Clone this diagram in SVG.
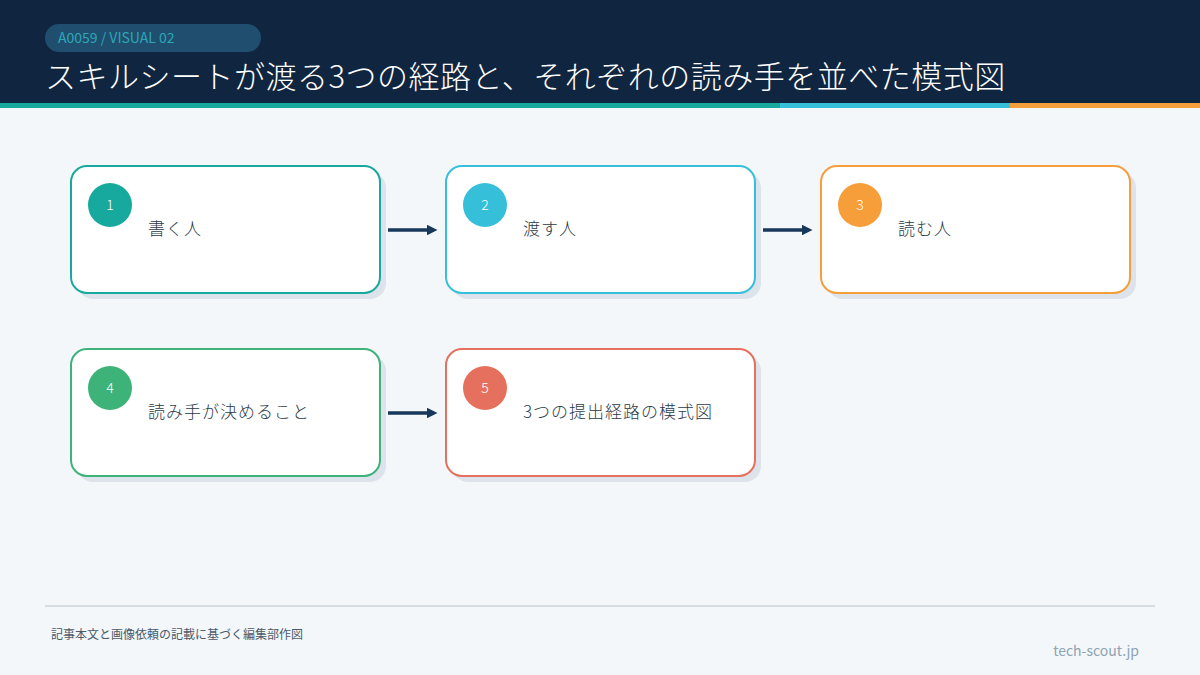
<svg xmlns="http://www.w3.org/2000/svg" width="1200" height="675" viewBox="0 0 1200 675">
<defs>
<style>
text{font-family:"Noto Sans CJK JP","Noto Sans",sans-serif;}
.card{fill:#fff;stroke-width:2;}
.sh{fill:#dde3ea;}
.num{fill:#fff;font-size:14px;text-anchor:middle;font-weight:300;}
.lbl{fill:#2b3a4a;font-size:17px;font-weight:300;letter-spacing:1px;}
.con{stroke:#17385a;stroke-width:3.5;fill:none;marker-end:url(#ah);}
</style>
<marker id="ah" markerWidth="3" markerHeight="3" refX="2" refY="1.5" orient="auto" markerUnits="strokeWidth"><path d="M0,0 L3,1.5 L0,3 Z" fill="#17385a"/></marker>
</defs>
<rect width="1200" height="675" fill="#f3f7fa"/>
<rect width="1200" height="104" fill="#10253f"/>
<rect y="103" width="780" height="5" fill="#17a99e"/>
<rect x="780" y="103" width="230" height="5" fill="#35bfd9"/>
<rect x="1010" y="103" width="190" height="5" fill="#f59e3a"/>
<rect x="45" y="24" width="216" height="28" rx="14" fill="#1f4e6e"/>
<text x="58" y="43" font-size="14" fill="#2ea7b8" font-family="Lato,sans-serif">A0059 / VISUAL 02</text>
<text x="45" y="88" font-size="31" fill="#ffffff" font-weight="200" letter-spacing="0.5">スキルシートが渡る3つの経路と、それぞれの読み手を並べた模式図</text>
<g id="connectors">
<line class="con" x1="388" y1="230" x2="434" y2="230"/>
<line class="con" x1="763" y1="230" x2="809" y2="230"/>
<line class="con" x1="388" y1="413" x2="434" y2="413"/>
</g>
<g id="n1"><rect class="sh" x="77" y="172" width="309" height="127" rx="16"/><rect class="card" x="71" y="166" width="309" height="127" rx="16" stroke="#17a99e"/><circle cx="110" cy="205" r="22" fill="#17a99e"/><text class="num" x="110" y="210">1</text><text class="lbl" x="148" y="235">書く人</text></g>
<g id="n2"><rect class="sh" x="452" y="172" width="309" height="127" rx="16"/><rect class="card" x="446" y="166" width="309" height="127" rx="16" stroke="#35bfd9"/><circle cx="485" cy="205" r="22" fill="#35bfd9"/><text class="num" x="485" y="210">2</text><text class="lbl" x="523" y="235">渡す人</text></g>
<g id="n3"><rect class="sh" x="827" y="172" width="309" height="127" rx="16"/><rect class="card" x="821" y="166" width="309" height="127" rx="16" stroke="#f59e3a"/><circle cx="860" cy="205" r="22" fill="#f59e3a"/><text class="num" x="860" y="210">3</text><text class="lbl" x="898" y="235">読む人</text></g>
<g id="n4"><rect class="sh" x="77" y="355" width="309" height="127" rx="16"/><rect class="card" x="71" y="349" width="309" height="127" rx="16" stroke="#3db37a"/><circle cx="110" cy="388" r="22" fill="#3db37a"/><text class="num" x="110" y="393">4</text><text class="lbl" x="148" y="418">読み手が決めること</text></g>
<g id="n5"><rect class="sh" x="452" y="355" width="309" height="127" rx="16"/><rect class="card" x="446" y="349" width="309" height="127" rx="16" stroke="#e5705e"/><circle cx="485" cy="388" r="22" fill="#e5705e"/><text class="num" x="485" y="393">5</text><text class="lbl" x="523" y="418">3つの提出経路の模式図</text></g>
<line x1="45" y1="606" x2="1155" y2="606" stroke="#d5dde3" stroke-width="2"/>
<text x="51" y="639" font-size="12" fill="#4a5a6a">記事本文と画像依頼の記載に基づく編集部作図</text>
<text x="1139" y="656" font-size="14" fill="#8ea3b3" text-anchor="end" font-family="Lato,sans-serif">tech-scout.jp</text>
</svg>
